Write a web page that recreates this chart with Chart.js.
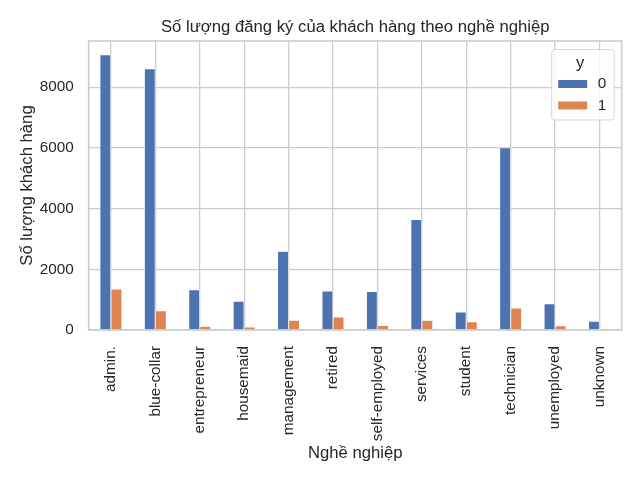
<!DOCTYPE html>
<html>
<head>
<meta charset="utf-8">
<script src="https://cdn.jsdelivr.net/npm/chart.js@4/dist/chart.umd.min.js"></script>
<style>
  html, body { margin: 0; padding: 0; background: #fff; }
  #wrap { width: 640px; height: 480px; }
</style>
</head>
<body>
<div id="wrap"><canvas id="jobChart" width="640" height="480"></canvas></div>
<script>
// Job categories and subscription counts (y = 0 / y = 1)
const jobs = ["admin.", "blue-collar", "entrepreneur", "housemaid", "management", "retired",
              "self-employed", "services", "student", "technician", "unemployed", "unknown"];
const countNo = [9070, 8616, 1332, 954, 2596, 1286, 1272, 3646, 600, 6013, 870, 293];
const countYes = [1352, 638, 124, 106, 328, 434, 149, 323, 275, 730, 144, 37];
const seriesLabels = ["0", "1"];
const yTicks = [0, 2000, 4000, 6000, 8000];

const FONT = "'Liberation Sans', Arial, sans-serif";
const TEXT = "#262626";
const GRID = "#cccccc";

// title, frame and legend drawn the matplotlib way
const extras = {
    id: "extras",
    afterDatasetsDraw(chart) {
        const { ctx, chartArea: a } = chart;
        ctx.save();
        // frame
        ctx.strokeStyle = GRID;
        ctx.lineWidth = 1.6;
        ctx.strokeRect(a.left, a.top, a.right - a.left, a.bottom - a.top);

        // title
        ctx.fillStyle = TEXT;
        ctx.font = "16.7px " + FONT;
        ctx.textAlign = "center";
        ctx.textBaseline = "middle";
        ctx.fillText("Số lượng đăng ký của khách hàng theo nghề nghiệp", (a.left + a.right) / 2, a.top - 14);

        // legend box
        const bx = a.right - 70, by = a.top + 8.5, bw = 62.5, bh = 70.5;
        ctx.fillStyle = "rgba(255,255,255,0.8)";
        ctx.strokeStyle = "rgba(204,204,204,0.8)";
        ctx.lineWidth = 1;
        ctx.beginPath();
        ctx.roundRect(bx, by, bw, bh, 3);
        ctx.fill();
        ctx.stroke();

        ctx.fillStyle = TEXT;
        ctx.font = "16.7px " + FONT;
        ctx.fillText("y", bx + 28.5, by + 13.5);
        ctx.font = "15.3px " + FONT;
        chart.data.datasets.forEach((ds, i) => {
            const ry = by + 34.5 + i * 21.5;
            ctx.fillStyle = ds.backgroundColor;
            ctx.fillRect(bx + 6.5, ry - 4, 29, 8);
            ctx.fillStyle = TEXT;
            ctx.textAlign = "left";
            ctx.fillText(ds.label, bx + 46, ry);
        });
        ctx.restore();
    }
};

const ctx = document.getElementById("jobChart").getContext("2d");
new Chart(ctx, {
    type: "bar",
    data: {
        labels: jobs,
        datasets: [
            { label: seriesLabels[0], data: countNo, backgroundColor: "#4C72B0",
              borderColor: "#ffffff", borderWidth: 0.6,
              categoryPercentage: 0.5, barPercentage: 1.0 },
            { label: seriesLabels[1], data: countYes, backgroundColor: "#DD8452",
              borderColor: "#ffffff", borderWidth: 0.6,
              categoryPercentage: 0.5, barPercentage: 1.0 }
        ]
    },
    options: {
        responsive: false,
        animation: false,
        devicePixelRatio: 1,
        layout: { padding: { top: 41, right: 18.3, left: 0, bottom: 0 } },
        plugins: {
            legend: { display: false },
            title: { display: false },
            tooltip: { enabled: false }
        },
        scales: {
            x: {
                grid: { color: GRID, lineWidth: 1.3, offset: false, drawTicks: false },
                border: { display: false },
                ticks: {
                    color: TEXT, font: { family: FONT, size: 15.3 },
                    minRotation: 90, maxRotation: 90, padding: 16, autoSkip: false
                },
                title: {
                    display: true, text: "Nghề nghiệp", color: TEXT,
                    font: { family: FONT, size: 16.7 }, padding: { top: 4, bottom: 17 }
                },
                afterFit(scale) { scale.height = 150; }
            },
            y: {
                min: 0,
                max: 9523.5,
                grid: { color: GRID, lineWidth: 1.3, drawTicks: false },
                border: { display: false },
                afterBuildTicks(scale) { scale.ticks = yTicks.map(v => ({ value: v })); },
                ticks: {
                    color: TEXT, font: { family: FONT, size: 15.3 }, padding: 15,
                    callback: v => String(v)
                },
                title: {
                    display: true, text: "Số lượng khách hàng", color: TEXT,
                    font: { family: FONT, size: 16.7 }, padding: { top: 17, bottom: 0 }
                },
                afterFit(scale) { scale.width = 88.7; }
            }
        }
    },
    plugins: [extras]
});
</script>
</body>
</html>
